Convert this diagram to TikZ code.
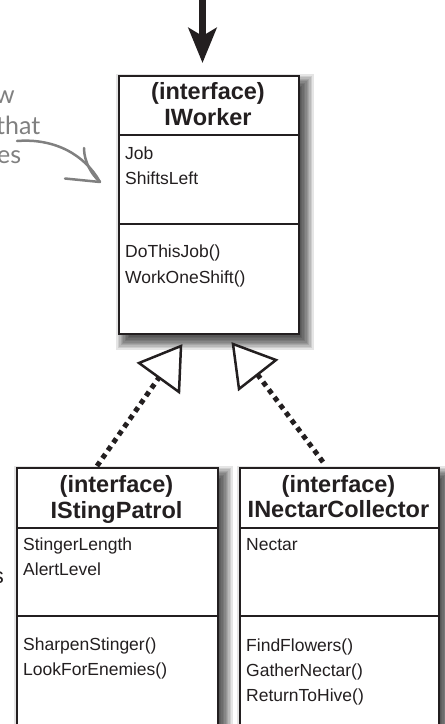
\documentclass[tikz,border=0pt]{standalone}
\usepackage{fontspec}
\setmainfont{Liberation Sans}
\newfontfamily\handfont{Lato}
\usetikzlibrary{arrows.meta}
\definecolor{ink}{HTML}{231F20}
\definecolor{notegray}{HTML}{808080}
\tikzset{
 umlbox/.style={draw=ink, line width=2pt, fill=white, rectangle, inner sep=0pt, anchor=north west},
 sepline/.style={draw=ink, line width=2.2pt},
 hdr/.style={font=\bfseries\fontsize{23.5}{26}\selectfont, text=ink, anchor=base, inner sep=0pt},
 item/.style={font=\fontsize{17.5}{20}\selectfont, text=ink, anchor=base west, inner sep=0pt},
 realize/.style={line width=5pt, dash pattern=on 5pt off 4.5pt, draw=ink},
 openhead/.style={draw=ink, line width=2.5pt, line join=miter, fill=white},
 handnote/.style={font=\handfont\fontsize{25}{27}\selectfont, text=notegray, anchor=base west, inner sep=0pt},
 noteline/.style={draw=notegray, line width=2.5pt, line cap=round},
 shadowlayer/.style={fill=black, fill opacity=0.1, draw=none},
}
\newcommand{\softshadow}[4]{%
  \foreach \k in {0,...,9}{%
    \pgfmathsetmacro{\e}{1.4*\k-4}%
    \fill[shadowlayer] (#1+7-\e,#2+8-\e) rectangle (#3+7+\e,#4+8+\e);
  }}
\begin{document}
\begin{tikzpicture}[x=1pt,y=-1pt]
\useasboundingbox (0,0) rectangle (445,724);
\clip (0,0) rectangle (445,724);

% shadows
\softshadow{118}{75}{298}{333}
\softshadow{16}{467}{217}{760}
\softshadow{239}{467}{438}{760}

% boxes
\node[umlbox, minimum width=180pt, minimum height=258pt] (iw) at (118,75) {};
\node[umlbox, minimum width=201pt, minimum height=285pt] (isp) at (16,467) {};
\node[umlbox, minimum width=199pt, minimum height=285pt] (inc) at (239,467) {};

% separators
\draw[sepline] ([yshift=-60pt]iw.north west) -- ([yshift=-60pt]iw.north east);
\draw[sepline] ([yshift=-149pt]iw.north west) -- ([yshift=-149pt]iw.north east);
\draw[sepline] ([yshift=-61pt]isp.north west) -- ([yshift=-61pt]isp.north east);
\draw[sepline] ([yshift=-149pt]isp.north west) -- ([yshift=-149pt]isp.north east);
\draw[sepline] ([yshift=-61pt]inc.north west) -- ([yshift=-61pt]inc.north east);
\draw[sepline] ([yshift=-149pt]inc.north west) -- ([yshift=-149pt]inc.north east);

% IWorker text
\node[hdr] (iwh1) at (208,99) {(interface)};
\node[hdr] (iwh2) at (208,125.5) {IWorker};
\node[item] (iwa1) at (125,159) {Job};
\node[item] (iwa2) at (125,184) {ShiftsLeft};
\node[item] (iwm1) at (125,257.5) {DoThisJob()};
\node[item] (iwm2) at (125,283) {WorkOneShift()};

% IStingPatrol text
\node[hdr] (isph1) at (116.5,492.5) {(interface)};
\node[hdr] (isph2) at (116.5,518) {IStingPatrol};
\node[item] (ispa1) at (23,550.5) {StingerLength};
\node[item] (ispa2) at (23,575.5) {AlertLevel};
\node[item] (ispm1) at (23,650.5) {SharpenStinger()};
\node[item] (ispm2) at (23,675.5) {LookForEnemies()};

% INectarCollector text
\node[hdr] (inch1) at (338.5,492) {(interface)};
\node[hdr] (inch2) at (338.5,517) {INectarCollector};
\node[item] (inca1) at (246,550.5) {Nectar};
\node[item] (incm1) at (246,651) {FindFlowers()};
\node[item] (incm2) at (246,676.5) {GatherNectar()};
\node[item] (incm3) at (246,701.5) {ReturnToHive()};

% incoming arrow at top
\coordinate (src) at (202.5,-2);
\coordinate (tipend) at (202.5,63);
\draw[draw=ink, line width=7pt, -{Stealth[length=35pt, width=28pt, inset=8pt]}] (src) -- (tipend);

% realization connectors
\coordinate (l0) at (97,466);
\coordinate (l1) at (159,377.5);
\coordinate (r0) at (323,462);
\coordinate (r1) at (257.5,374.5);
\draw[realize] (l0) -- (l1);
\draw[realize] (r0) -- (r1);
\draw[openhead] (139,363) -- (181,346) -- (179,392) -- cycle;
\draw[openhead] (233,344) -- (276,360) -- (239,389) -- cycle;

% handwritten annotation (cropped at the left edge, as in the reference)
\node[handnote] (n1) at (-5,103) {w};
\node[handnote] (n2) at (-4,134) {that};
\node[handnote] (n3) at (-3,163) {es};
\node[font=\fontsize{22}{24}\selectfont, text=ink, anchor=base east, inner sep=0pt] (n4) at (4,583) {s};
\draw[noteline] (17,141) .. controls (55,138) and (85,155) .. (100,182);
\draw[noteline] (65,178.5) -- (100,182);
\draw[noteline] (84,148) .. controls (84,162) and (92,175) .. (100,182);
\end{tikzpicture}
\end{document}
